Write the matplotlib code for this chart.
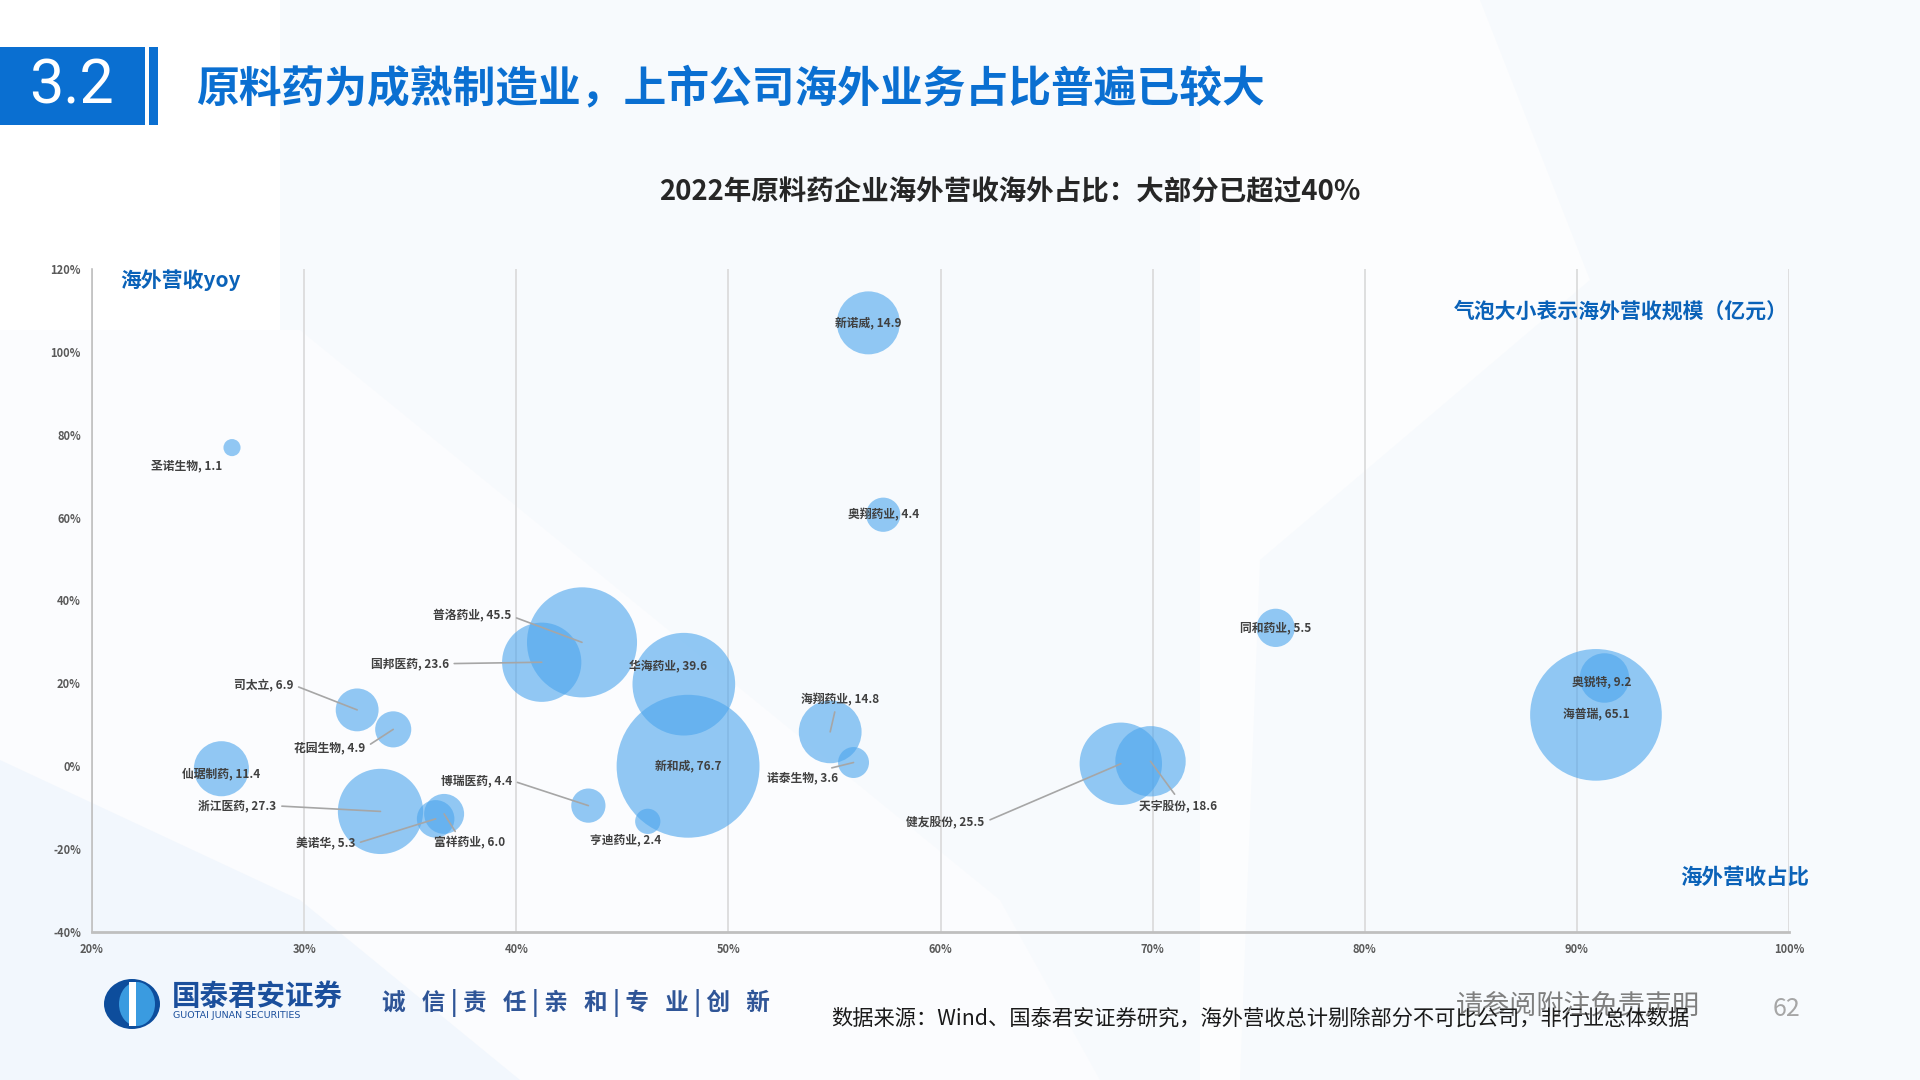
import numpy as np
import matplotlib.pyplot as plt
from matplotlib.patches import Rectangle, Polygon, Ellipse

plt.rcParams['font.family'] = ['Noto Sans CJK SC', 'DejaVu Sans']

# 数据：海外营收占比(%)、海外营收yoy(%)、海外营收规模(亿元)
names = ['新诺威', '奥翔药业', '圣诺生物', '普洛药业', '国邦医药', '华海药业', '新和成',
         '海翔药业', '诺泰生物', '健友股份', '天宇股份', '同和药业', '海普瑞', '奥锐特',
         '司太立', '花园生物', '仙琚制药', '浙江医药', '美诺华', '富祥药业', '博瑞医药', '亨迪药业']
share = [56.6, 57.3, 26.6, 43.1, 41.2, 47.9, 48.1,
         54.8, 55.9, 68.5, 69.9, 75.8, 90.9, 91.3,
         32.5, 34.2, 26.1, 33.6, 36.2, 36.6, 43.4, 46.2]
yoy = [107.0, 60.7, 76.9, 29.9, 25.1, 19.8, 0.0,
       8.3, 0.9, 0.6, 1.2, 33.4, 12.4, 21.3,
       13.6, 8.9, -0.6, -10.9, -12.7, -11.5, -9.5, -13.3]
scale = [14.9, 4.4, 1.1, 45.5, 23.6, 39.6, 76.7,
         14.8, 3.6, 25.5, 18.6, 5.5, 65.1, 9.2,
         6.9, 4.9, 11.4, 27.3, 5.3, 6.0, 4.4, 2.4]

x_ticks = [20, 30, 40, 50, 60, 70, 80, 90, 100]
y_ticks = [-40, -20, 0, 20, 40, 60, 80, 100, 120]

# 标签位置 (dx, dy 点, 对齐, 引线起点relpos 或 None)
label_pos = {
    '圣诺生物': (-33, -13, 'center', None),
    '普洛药业': (-51, 19, 'right', (1, 0.5)),
    '国邦医药': (-67, -1, 'right', (1, 0.5)),
    '华海药业': (-11, 13, 'center', None),
    '海翔药业': (7, 23, 'center', (0.45, 0)),
    '诺泰生物': (-37, -11, 'center', (0.72, 1)),
    '健友股份': (-98, -42, 'right', (1, 0.5)),
    '天宇股份': (20, -32, 'center', (0.5, 1)),
    '奥锐特': (-2, -3, 'center', None),
    '司太立': (-46, 18, 'right', (1, 0.5)),
    '花园生物': (-20, -13, 'right', (1, 0.5)),
    '仙琚制药': (0, -4, 'center', None),
    '浙江医药': (-75, 4, 'right', (1, 0.5)),
    '美诺华': (-58, -18, 'right', (1, 0.5)),
    '富祥药业': (18, -21, 'center', (0.35, 1)),
    '博瑞医药': (-55, 18, 'right', (1, 0.5)),
    '亨迪药业': (-16, -13, 'center', None),
}

W, H = 1920, 1080
fig = plt.figure(figsize=(19.2, 10.8), dpi=100)
fig.patch.set_facecolor('white')


def fx(x):
    return x / W


def fy(y):
    return 1 - y / H


def bg_poly(pts, color, z=-2):
    fig.patches.append(Polygon([(fx(a), fy(b)) for a, b in pts], closed=True,
                               transform=fig.transFigure, facecolor=color,
                               edgecolor='none', zorder=z))


# 背景装饰（很浅）
bg_poly([(280, 0), (1920, 0), (1920, 1080), (280, 1080)], '#f7fafd')
bg_poly([(1300, 0), (1480, 0), (1590, 280), (1260, 560), (1240, 1080), (1200, 1080), (1200, 0)], '#fcfdfe')
bg_poly([(0, 330), (300, 330), (1000, 900), (1100, 1080), (0, 1080)], '#fbfcfe')
bg_poly([(0, 760), (300, 900), (520, 1080), (0, 1080)], '#f2f7fd')

# 标题栏
fig.patches.append(Rectangle((fx(0), fy(125)), fx(145), 78 / H, transform=fig.transFigure,
                             facecolor='#0a6fd1', edgecolor='none', zorder=1))
fig.patches.append(Rectangle((fx(149), fy(125)), fx(9), 78 / H, transform=fig.transFigure,
                             facecolor='#0a6fd1', edgecolor='none', zorder=1))
fig.text(fx(72), fy(86), '3.2', color='white', fontsize=44, ha='center', va='center',
         family=['Roboto', 'DejaVu Sans'])
fig.text(fx(196), fy(88), '原料药为成熟制造业，上市公司海外业务占比普遍已较大', color='#0a6fd1',
         fontsize=30.8, fontweight='bold', ha='left', va='center')
fig.text(fx(1010), fy(192), '2022年原料药企业海外营收海外占比：大部分已超过40%', color='#262626',
         fontsize=19.8, fontweight='bold', ha='center', va='center')

ax = fig.add_axes([92 / W, 1 - 932 / H, (1789 - 92) / W, (932 - 269) / H])
ax.set_facecolor('none')
ax.set_zorder(2)

ax.scatter(share, yoy, s=np.array(scale) * 138, color='#4ba5ed', alpha=0.6,
           edgecolors='none', zorder=3)

for n, x, y, v in zip(names, share, yoy, scale):
    txt = f'{n}, {v:.1f}'
    dx, dy, ha, rel = label_pos.get(n, (0, 0, 'center', None))
    kw = {}
    if rel is not None:
        kw['arrowprops'] = dict(arrowstyle='-', color='#a6a6a6', lw=1.2, relpos=rel,
                                shrinkA=2, shrinkB=0)
    ax.annotate(txt, xy=(x, y), xytext=(dx, dy), textcoords='offset points',
                ha=ha, va='center', fontsize=8.5, fontweight='bold', color='#404040',
                zorder=5, **kw)

ax.set_xlim(20, 100)
ax.set_ylim(-40, 120)
ax.set_xticks(x_ticks)
ax.set_xticklabels([f'{t}%' for t in x_ticks])
ax.set_yticks(y_ticks)
ax.set_yticklabels([f'{t}%' for t in y_ticks])
ax.tick_params(length=0, labelsize=8, labelcolor='#595959', pad=8)
for lab in ax.get_xticklabels() + ax.get_yticklabels():
    lab.set_fontweight('bold')
ax.grid(axis='x', color='#d9d9d9', lw=1.2, zorder=0)
ax.grid(axis='y', visible=False)
for s in ['top', 'right']:
    ax.spines[s].set_visible(False)
ax.spines['left'].set_color('#bfbfbf')
ax.spines['bottom'].set_color('#bfbfbf')
ax.spines['left'].set_linewidth(1.2)
ax.spines['bottom'].set_linewidth(2)

fig.text(fx(120), fy(280), '海外营收yoy', color='#0a62b8', fontsize=15, fontweight='bold',
         ha='left', va='center', zorder=3)
fig.text(fx(1788), fy(311), '气泡大小表示海外营收规模（亿元）', color='#0a62b8', fontsize=15,
         fontweight='bold', ha='right', va='center', zorder=3)
fig.text(fx(1809), fy(877), '海外营收占比', color='#0a62b8', fontsize=15.5, fontweight='bold',
         ha='right', va='center', zorder=3)

# 页脚
fig.patches.append(Ellipse((fx(132), fy(1004)), 56 / W, 50 / H, transform=fig.transFigure,
                           facecolor='#0d4d9c', edgecolor='none', zorder=2))
fig.patches.append(Ellipse((fx(137), fy(1004)), 36 / W, 44 / H, transform=fig.transFigure,
                           facecolor='#3a9be0', edgecolor='none', zorder=3))
fig.patches.append(Rectangle((fx(129), fy(1026)), 7 / W, 44 / H, transform=fig.transFigure,
                             facecolor='white', edgecolor='none', zorder=4))
fig.text(fx(172), fy(997), '国泰君安证券', color='#1b4f9c', fontsize=20.5, fontweight='bold',
         ha='left', va='center')
fig.text(fx(173), fy(1015), 'GUOTAI JUNAN SECURITIES', color='#1b4f9c', fontsize=6.8,
         ha='left', va='center', family=['DejaVu Sans'])
fig.text(fx(382), fy(1003), '诚   信 | 责   任 | 亲   和 | 专   业 | 创   新', color='#2f5597',
         fontsize=17, fontweight='bold', ha='left', va='center')
fig.text(fx(1456), fy(1006), '请参阅附注免责声明', color='#7f7f7f', fontsize=19.5,
         ha='left', va='center')
fig.text(fx(1787), fy(1009), '62', color='#a6a6a6', fontsize=18, ha='center', va='center')
fig.text(fx(831), fy(1019), '数据来源：Wind、国泰君安证券研究，海外营收总计剔除部分不可比公司，非行业总体数据',
         color='#1a1a1a', fontsize=15.3, ha='left', va='center')

fig.savefig('out.png', dpi=100)
